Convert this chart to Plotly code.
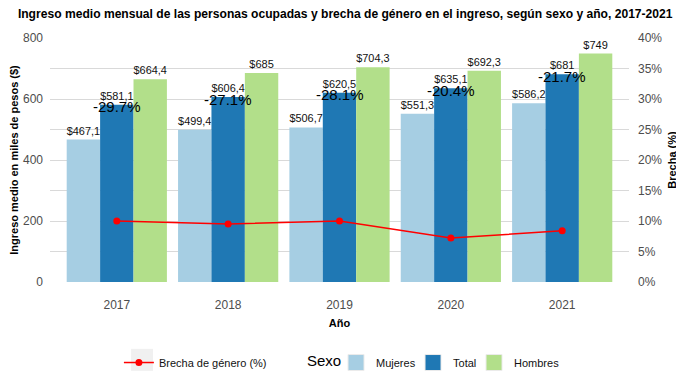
import plotly.graph_objects as go

years = ["2017", "2018", "2019", "2020", "2021"]
mujeres = [467.1, 499.4, 506.7, 551.3, 586.2]
total = [581.1, 606.4, 620.5, 635.1, 681.0]
hombres = [664.4, 685.0, 704.3, 692.3, 749.0]
brecha_labels = ["-29.7%", "-27.1%", "-28.1%", "-20.4%", "-21.7%"]
brecha_line = [10.0, 9.5, 10.0, 7.2, 8.4]
pct_ticks = [0, 5, 10, 15, 20, 25, 30, 35, 40]

FONT = "Liberation Sans, Arial, sans-serif"
series = [("Mujeres", mujeres, "#A6CEE3", 32),
          ("Total", total, "#1F78B4", 16),
          ("Hombres", hombres, "#B2DF8A", 45)]


def money(v):
    if abs(v - round(v)) < 1e-9:
        return f"${int(round(v))}"
    return "$" + f"{v:.1f}".replace(".", ",")


fig = go.Figure()
for name, vals, col, lw in series:
    fig.add_trace(go.Bar(
        x=years, y=vals, name=name, marker_color=col, marker_line_width=0,
        text=[money(v) for v in vals], textposition="outside",
        textfont=dict(size=11, color="#111111", family=FONT),
        cliponaxis=False, showlegend=False,
    ))

fig.add_trace(go.Scatter(
    x=years, y=brecha_line, yaxis="y2", mode="lines+markers",
    name="Brecha de género (%)", line=dict(color="#FF0000", width=1.5),
    marker=dict(color="#FF0000", size=7), legend="legend", showlegend=True,
))

# legend-only swatches (larger squares, like the reference key)
for name, vals, col, lw in series:
    fig.add_trace(go.Scatter(
        x=[None], y=[None], mode="markers", name=name, legend="legend2",
        marker=dict(symbol="square", size=16, color=col,
                    line=dict(color="#ebebeb", width=1)),
        legendwidth=lw, showlegend=True,
    ))

for i, (tv, lab) in enumerate(zip(total, brecha_labels)):
    fig.add_annotation(x=i, y=tv, xref="x", yref="y", text=lab, showarrow=False,
                       font=dict(size=15, color="#000000", family=FONT),
                       yanchor="middle", yshift=-2)

fig.add_annotation(x=0.441, y=-0.322, xref="paper", yref="paper", text="Sexo",
                   showarrow=False, xanchor="left", yanchor="middle",
                   font=dict(size=15, color="#000000", family=FONT))

# grey key background behind the line legend symbol
fig.add_shape(type="rect", xref="paper", yref="paper",
              x0=0.140, x1=0.178, y0=-0.364, y1=-0.274,
              fillcolor="#f0f0f0", line_width=0, layer="below")

fig.update_layout(
    width=684, height=386,
    margin=dict(l=42, r=63, t=30, b=112),
    paper_bgcolor="white", plot_bgcolor="white",
    font=dict(family=FONT, color="#4d4d4d"),
    barmode="group", bargap=0.1, bargroupgap=0,
    showlegend=True,
    title=dict(text="<b>Ingreso medio mensual de las personas ocupadas y brecha de género en el ingreso, según sexo y año, 2017-2021</b>",
               x=0.493, xanchor="center", y=0.984, yanchor="middle",
               font=dict(size=12.1, color="#000000", family=FONT)),
    xaxis=dict(type="category", range=[-0.6, 4.6], showgrid=False, zeroline=False,
               automargin=False,
               tickfont=dict(size=12, color="#4d4d4d"), ticks="", ticklabelstandoff=14,
               title=dict(text="<b>Año</b>", font=dict(size=11, color="#000000"), standoff=8)),
    yaxis=dict(range=[0, 800], tickvals=[0, 200, 400, 600, 800], showgrid=True,
               gridcolor="#d9d9d9", gridwidth=1, zeroline=False, automargin=False,
               minor=dict(dtick=100, showgrid=True, gridcolor="#d9d9d9", gridwidth=1),
               tickfont=dict(size=12, color="#4d4d4d"), ticks="", ticklabelstandoff=6,
               title=dict(text="<b>Ingreso medio en miles de pesos ($)</b>",
                          font=dict(size=11, color="#000000"), standoff=4)),
    yaxis2=dict(range=[0, 40], overlaying="y", side="right", showgrid=False,
                zeroline=False, tickvals=pct_ticks, ticktext=[f"{v}%" for v in pct_ticks],
                automargin=False,
                tickfont=dict(size=12, color="#4d4d4d"),
                ticks="", ticklabelstandoff=8,
                title=dict(text="<b>Brecha (%)</b>", font=dict(size=11, color="#000000"),
                           standoff=6)),
    legend=dict(orientation="h", x=0.119, xanchor="left", y=-0.33, yanchor="middle",
                font=dict(size=11, color="#111111"), bgcolor="rgba(0,0,0,0)"),
    legend2=dict(orientation="h", x=0.494, xanchor="left", y=-0.33, yanchor="middle",
                 font=dict(size=11, color="#111111"), bgcolor="rgba(0,0,0,0)",
                 itemwidth=30),
)

fig.write_html("out.html")
